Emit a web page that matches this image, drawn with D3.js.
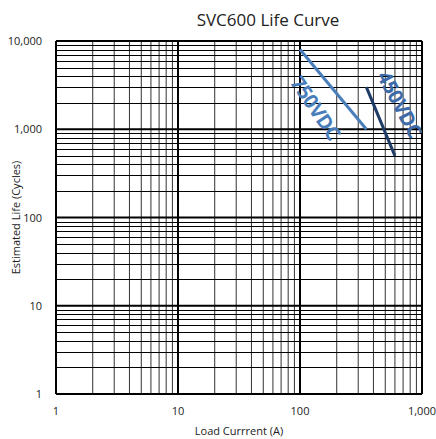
<!DOCTYPE html>
<html>
<head>
<meta charset="utf-8">
<script src="https://cdn.jsdelivr.net/npm/d3@7"></script>
<style>
  body { margin: 0; background: #fff; }
  text { font-family: "Open Sans", "Noto Sans", sans-serif; }
</style>
</head>
<body>
<svg id="chart" width="436" height="439"></svg>
<script>
// data
const xTicks = [1, 10, 100, 1000];
const yTicks = [1, 10, 100, 1000, 10000];
const curve750 = [[100, 8000], [350, 1000]];
const curve450 = [[350, 3000], [600, 500]];

var svg = d3.select("#chart");
var margin = { left: 56, right: 14, top: 41, bottom: 45 };
var width = 436, height = 439;

var x = d3.scaleLog().domain([1, 1000]).range([margin.left, width - margin.right]);
var y = d3.scaleLog().domain([1, 10000]).range([height - margin.bottom, margin.top]);

var fmt = d3.format(",");

// minor grid (2..9 in each decade)
var minorX = [], minorY = [];
for (var d = 1; d < 1000; d *= 10) {
  for (var k = 2; k < 10; k++) minorX.push(d * k);
}
for (var d = 1; d < 10000; d *= 10) {
  for (var k = 2; k < 10; k++) minorY.push(d * k);
}

var grid = svg.append("g");
grid.selectAll("line.vx")
  .data(minorX)
  .enter().append("line")
    .attr("x1", function(d) { return x(d); })
    .attr("x2", function(d) { return x(d); })
    .attr("y1", y(1)).attr("y2", y(10000))
    .attr("stroke", "#333").attr("stroke-width", 1);

grid.selectAll("line.hy")
  .data(minorY)
  .enter().append("line")
    .attr("y1", function(d) { return Math.round(y(d)) + 0.5; })
    .attr("y2", function(d) { return Math.round(y(d)) + 0.5; })
    .attr("x1", x(1)).attr("x2", x(1000))
    .attr("stroke", "#000").attr("stroke-width", 1.2);

// major grid
grid.selectAll("line.mx")
  .data(xTicks)
  .enter().append("line")
    .attr("x1", function(d) { return x(d); })
    .attr("x2", function(d) { return x(d); })
    .attr("y1", y(1)).attr("y2", y(10000))
    .attr("stroke", "#000").attr("stroke-width", 2);

grid.selectAll("line.my")
  .data(yTicks)
  .enter().append("line")
    .attr("y1", function(d) { return y(d); })
    .attr("y2", function(d) { return y(d); })
    .attr("x1", x(1)).attr("x2", x(1000))
    .attr("stroke", "#000").attr("stroke-width", 2.2);

// tick labels
svg.append("g").selectAll("text")
  .data(xTicks)
  .enter().append("text")
    .attr("x", function(d) { return x(d); })
    .attr("y", y(1) + 21)
    .attr("text-anchor", "middle")
    .attr("font-size", 11)
    .attr("fill", "#222")
    .text(fmt);

svg.append("g").selectAll("text")
  .data(yTicks)
  .enter().append("text")
    .attr("x", x(1) - 14)
    .attr("y", function(d) { return y(d) + 4; })
    .attr("text-anchor", "end")
    .attr("font-size", 11)
    .attr("fill", "#222")
    .text(fmt);

// curves
var line = d3.line()
  .x(function(d) { return x(d[0]); })
  .y(function(d) { return y(d[1]); });

svg.append("path").datum(curve750)
  .attr("d", line)
  .attr("fill", "none")
  .attr("stroke", "#4a7ebb")
  .attr("stroke-width", 3);

svg.append("path").datum(curve450)
  .attr("d", line)
  .attr("fill", "none")
  .attr("stroke", "#1f3c66")
  .attr("stroke-width", 3);

// curve labels
svg.append("text")
  .attr("transform", "translate(" + x(135) + "," + y(1740) + ") rotate(56)")
  .attr("text-anchor", "middle")
  .attr("dominant-baseline", "central")
  .attr("font-size", 20)
  .attr("font-weight", "bold")
  .attr("letter-spacing", -0.5)
  .attr("fill", "#4a7ebb")
  .text("750VDC");

svg.append("text")
  .attr("transform", "translate(" + x(660) + "," + y(1935) + ") rotate(62)")
  .attr("text-anchor", "middle")
  .attr("dominant-baseline", "central")
  .attr("font-size", 20)
  .attr("font-weight", "bold")
  .attr("letter-spacing", -0.5)
  .attr("fill", "#3d6aa8")
  .text("450VDC");

// titles
svg.append("text")
  .attr("x", 268).attr("y", 26)
  .attr("text-anchor", "middle")
  .attr("font-size", 17)
  .attr("fill", "#222")
  .text("SVC600 Life Curve");

svg.append("text")
  .attr("x", (x(1) + x(1000)) / 2).attr("y", 435)
  .attr("text-anchor", "middle")
  .attr("font-size", 11)
  .attr("fill", "#222")
  .text("Load Currrent (A)");

svg.append("text")
  .attr("transform", "translate(20," + (y(1) + y(10000)) / 2 + ") rotate(-90)")
  .attr("text-anchor", "middle")
  .attr("font-size", 11)
  .attr("fill", "#222")
  .text("Estimated Life  (Cycles)");
</script>
</body>
</html>
